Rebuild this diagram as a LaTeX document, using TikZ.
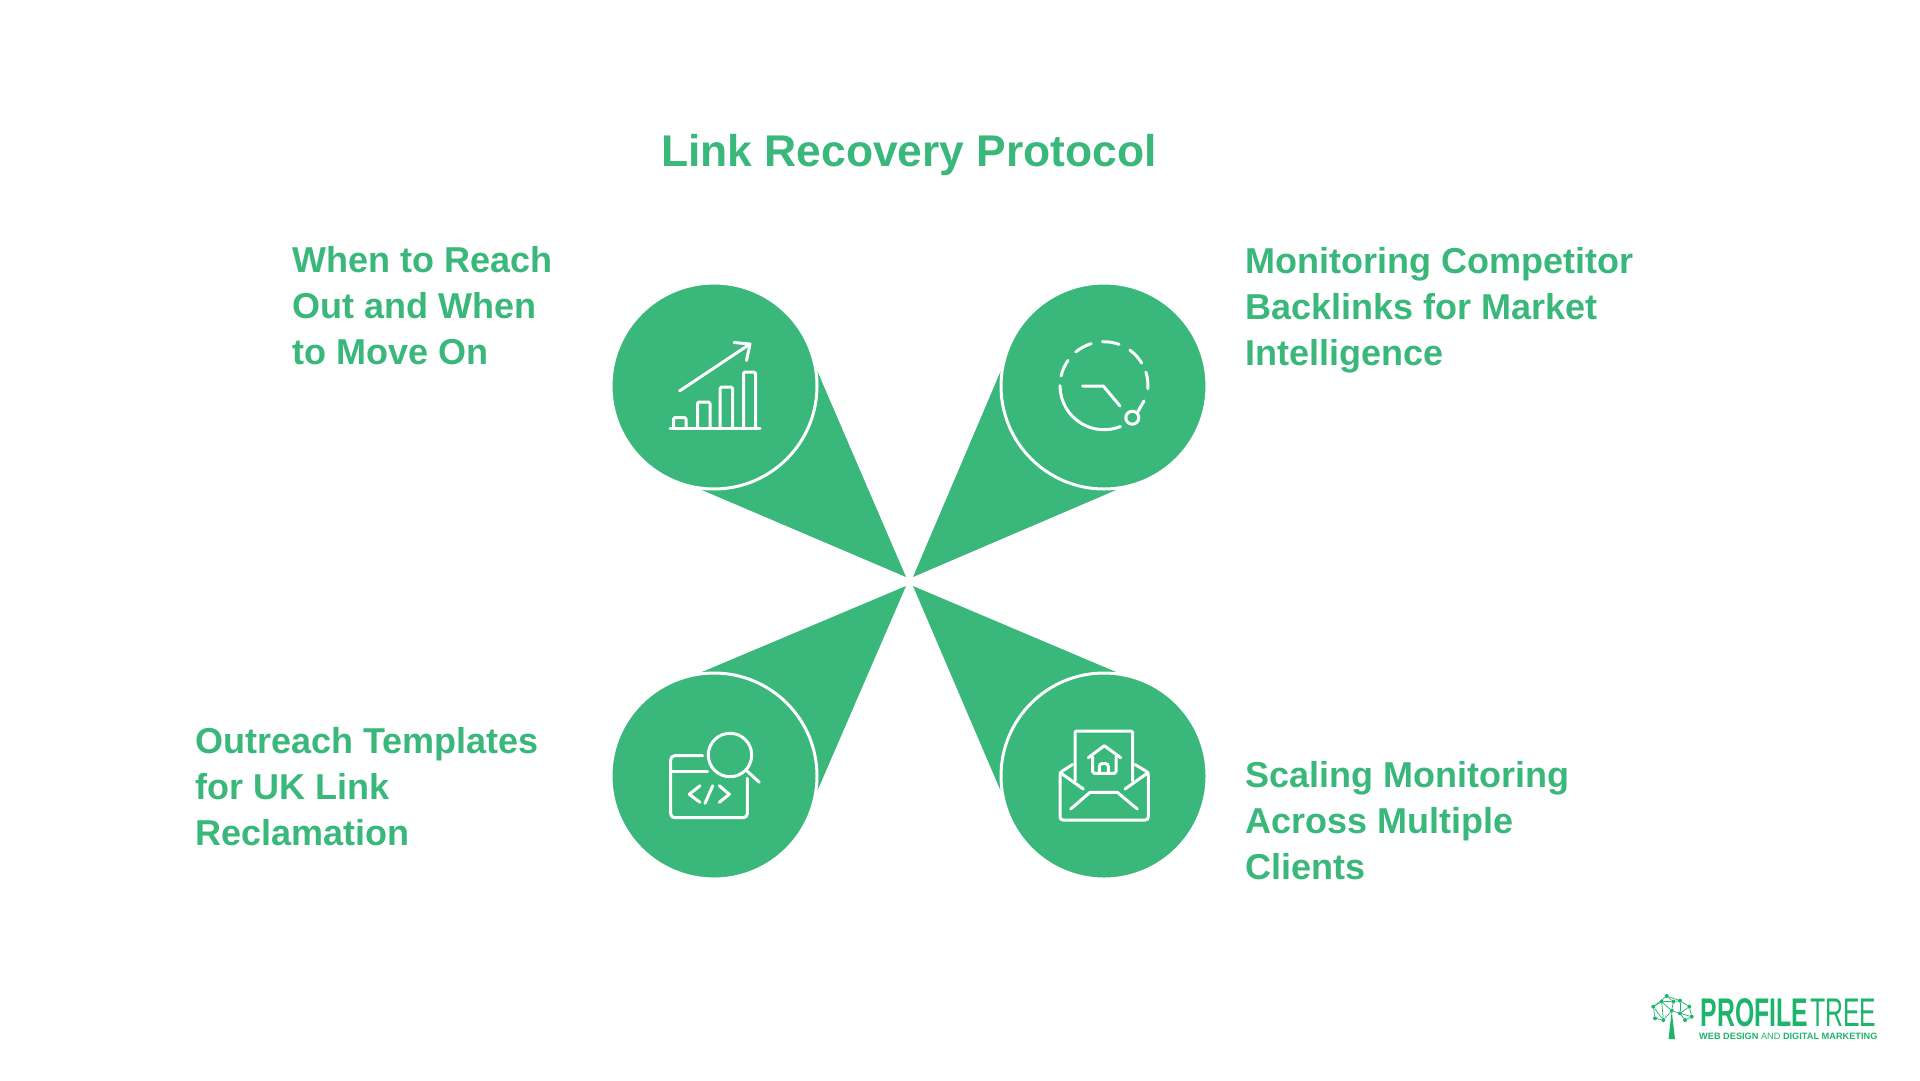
\documentclass[tikz,border=0pt]{standalone}
\usepackage{fontspec}
\usetikzlibrary{backgrounds}
\setmainfont{Liberation Sans}
\definecolor{leafgreen}{HTML}{3AB77A}
\definecolor{logogreen}{HTML}{1DB56C}
\begin{document}
\begin{tikzpicture}
[x=1pt,y=1pt,yscale=-1,
  blob/.style={shape=circle,inner sep=0pt,minimum size=206pt,fill=leafgreen,draw=white,line width=3pt},%
  iconline/.style={draw=white,line width=3pt,line cap=round,line join=round},%
  caption/.style={anchor=west,align=left,text=leafgreen,inner sep=0pt,font=\fontsize{36}{46}\selectfont\bfseries},%
  logodot/.style={shape=circle,inner sep=0pt,minimum size=4pt,fill=logogreen},%
  logoline/.style={draw=logogreen,line width=0.7pt}]
\useasboundingbox (0,0) rectangle (1920,1080);
\node (title) at (909,155) [text=leafgreen,font=\fontsize{44.4}{54}\selectfont\bfseries] {Link Recovery Protocol};
%% petals and circles
\foreach \blobname/\x/\y/\tipx/\tipy/\first/\second in {
  growth/714/386/906/577/8/-97.5, clock/1104/386/913/577/172/-83,
  code/714/776/906/586/97/-8, mail/1104/776/913/586/83/188}
{
  \node (\blobname) at (\x,\y) [blob] {};
  \coordinate (\blobname tip) at (\tipx,\tipy);
  \begin{scope}[on background layer]
  \fill [leafgreen] (\blobname tip) -- (\blobname.\first) -- (\blobname.\second) -- cycle;
  \end{scope}
}
%% captions
\node (reach) at (292,306) [caption] {When to Reach\\Out and When\\to Move On};
\node (watch) at (1245,310.5) [caption] {Monitoring Competitor\\Backlinks for Market\\Intelligence};
\node (templates) at (195,787) [caption] {Outreach Templates\\for UK Link\\Reclamation};
\node (scaling) at (1245,821) [caption] {Scaling Monitoring\\Across Multiple\\Clients};
%% chart icon
\draw [iconline] (670,428.5) -- (760,428.5);
\foreach \left/\right/\top in {673.5/686/417.5, 697.5/710/402, 720/732.5/387, 743.5/755.5/372}
  \draw [iconline,rounded corners=1.5pt] (\left,428.5) -- (\left,\top) -- (\right,\top) -- (\right,428.5);
\draw [iconline] (679.5,391) -- (750,344);
\draw [iconline] (734,342.5) -- (750,344) -- (746.5,360.5);
%% clock icon
\coordinate (dial) at (1104,385.7);
\foreach \from/\to in {180/68, 193/215, 230/253, 268/290, 306/329, 342/364}
  \draw [iconline] ([shift={(\from:44pt)}]dial) arc (\from:\to:44pt);
\draw [iconline] (1144,401) -- (1137.3,412.5);
\draw [iconline] (1132.3,417.7) circle (6.5pt);
\draw [iconline] (1082.7,386) -- (1103.3,386) -- (1120,406);
%% code icon
\draw [iconline,rounded corners=4pt] (702.7,755.7) -- (670.7,755.7) -- (670.7,817.7) -- (747.3,817.7) -- (747.3,778.3);
\draw [iconline] (670.7,771.7) -- (707.7,771.7);
\draw [iconline] (730,755) circle (21.7pt);
\draw [iconline] (746,770) -- (759.3,782.3);
\draw [iconline] (700,785.7) -- (689.3,794.3) -- (700,802.3);
\draw [iconline] (712.7,785.7) -- (705,803.3);
\draw [iconline] (719.3,785.7) -- (729.3,794.3) -- (719.3,802.3);
%% mail icon
\draw [iconline,rounded corners=2pt] (1075,781) -- (1075,731) -- (1132.7,731) -- (1132.7,781);
\draw [iconline,rounded corners=3pt] (1072.5,764.5) -- (1060,772.5) -- (1060,820) -- (1148.3,820) -- (1148.3,772.5) -- (1135,764.5);
\draw [iconline] (1060,772.5) -- (1083.3,789);
\draw [iconline] (1148.3,772.5) -- (1125,789);
\draw [iconline] (1070.7,809) -- (1090,792.3) -- (1117.3,792.3) -- (1137.3,809);
\draw [iconline] (1088.3,757.7) -- (1104.3,745.7) -- (1120.7,757.7);
\draw [iconline,rounded corners=1.5pt] (1092.7,756.7) -- (1092.7,773.3) -- (1116,773.3) -- (1116,756.7);
\draw [iconline,rounded corners=3pt] (1099.3,773.3) -- (1099.3,763.5) -- (1108.3,763.5) -- (1108.3,773.3);
%% logo
\foreach \dotname/\x/\y in {
  d1/1653.3/1006.7, d2/1666.7/996, d3/1680/1000.7, d4/1689.3/1006.7,
  d5/1691.7/1016.7, d6/1671.7/1010.7, d7/1661.7/1001.7, d8/1673.3/1001.7,
  d9/1655/1018.3, d10/1680/1013.3, d11/1685/1020, d12/1663.3/1020}
{
  \node (\dotname) at (\x,\y) [logodot] {};
}
\foreach \from/\to in {d1/d2, d2/d3, d3/d4, d4/d5, d5/d11, d1/d9, d9/d12, d1/d7,
  d7/d8, d8/d3, d7/d6, d8/d6, d6/d10, d10/d4, d10/d11, d6/d12, d12/d1, d2/d8, d10/d3, d12/d7, d10/d5}
  \draw [logoline] (\from) -- (\to);
\fill [logogreen] (d6.center) -- (1675,1039) -- (1668.5,1039) -- cycle;
\node (profile) at (1700.7,1012.5) [anchor=west,inner sep=0pt,text=logogreen,xscale=0.62,transform shape,yscale=-1,font=\fontsize{40}{40}\selectfont\bfseries] {PROFILE};
\node (tree) at (1810,1012.5) [anchor=west,inner sep=0pt,text=logogreen,xscale=0.62,transform shape,yscale=-1,font=\fontsize{40}{40}\selectfont] {TREE};
\node (strapline) at (1788.3,1036) [text=logogreen,font=\fontsize{9.2}{10}\selectfont] {\textbf{WEB DESIGN} AND \textbf{DIGITAL MARKETING}};
\end{tikzpicture}
\end{document}
